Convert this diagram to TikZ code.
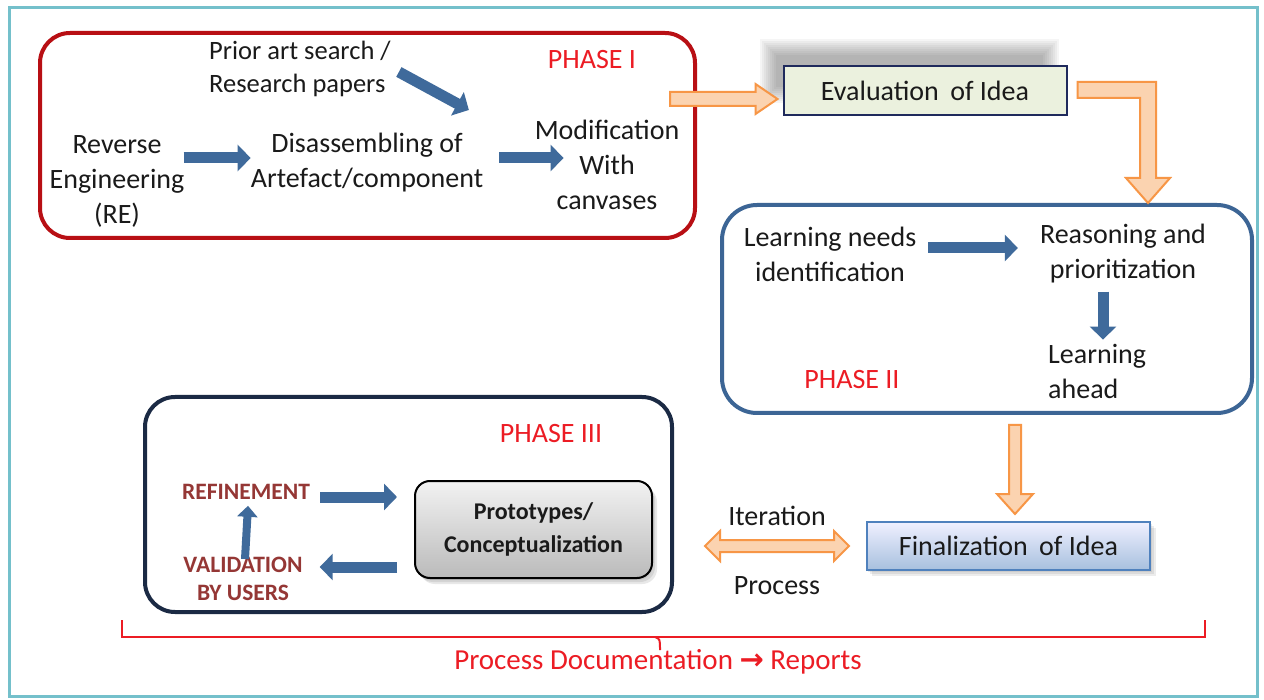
\documentclass[tikz,border=0pt]{standalone}
\usepackage{fontspec}
\setmainfont{Carlito}
\newfontfamily\dejavu{DejaVu Sans}
\usetikzlibrary{arrows.meta,calc,shadows}
\definecolor{framecol}{HTML}{74C0CB}
\definecolor{pIred}{HTML}{B80F14}
\definecolor{pIIblue}{HTML}{3C6595}
\definecolor{pIIInavy}{HTML}{1B2A44}
\definecolor{arrowblue}{HTML}{3F6A9B}
\definecolor{phasered}{HTML}{EC1C24}
\definecolor{refred}{HTML}{953735}
\definecolor{oborder}{HTML}{F79646}
\definecolor{ofill}{HTML}{FBD3B0}
\definecolor{evalfill}{HTML}{EBF1DE}
\definecolor{evalborder}{HTML}{1F2A5C}
\definecolor{finborder}{HTML}{4F81BD}
\definecolor{txtcol}{HTML}{1A1A1A}
\begin{document}
\begin{tikzpicture}[x=1pt,y=-1pt,
  txt/.style={font=\fontsize{28}{35}\selectfont, align=center, inner sep=0pt, text=txtcol},
  phaselbl/.style={font=\fontsize{28}{35}\selectfont, inner sep=0pt, text=phasered},
  boldlbl/.style={font=\bfseries\fontsize{23.5}{28}\selectfont, align=center, inner sep=0pt, text=refred},
  phasebox/.style={line width=4pt, fill=white, inner sep=0pt},
  barrow/.style={draw=arrowblue, line width=11pt, -{Triangle[length=13pt,width=26pt]}},
  sbarrow/.style={draw=arrowblue, line width=8pt, -{Triangle[length=11pt,width=20pt]}},
  oarrow/.style={draw=oborder, line width=2pt, fill=ofill, line join=miter},
]
\useasboundingbox (0,0) rectangle (1264,700);
\fill[white] (0,0) rectangle (1264,700);
\draw[framecol, line width=3pt] (9,8) rectangle (1257,696);

% ---------- Phase I ----------
\node[phasebox, draw=pIred, rounded corners=30pt, minimum width=655pt, minimum height=205pt] (p1) at (367.5,135.5) {};
\node[phaselbl] (ph1) at (592,60) {PHASE I};
\node[txt, align=left, anchor=west, font=\fontsize{26.5}{33}\selectfont] (prior) at (209,69) {Prior art search /\\Research papers};
\node[txt] (re) at (117,181) {Reverse\\Engineering\\(RE)};
\node[txt] (dis) at (367,163) {Disassembling of\\Artefact/component};
\node[txt] (mod) at (607,165) {Modification\\With\\canvases};

\draw[barrow] ([xshift=-1pt,yshift=23pt]re.east) -- ([xshift=0pt,yshift=23pt]re.east -| dis.west);
\draw[barrow] ([xshift=16pt,yshift=5pt]dis.east) -- ([xshift=29pt,yshift=7pt]mod.west);
\draw[barrow] ([shift={(8,3)}]prior.east) -- ([shift={(78,41)}]prior.east);

% ---------- Evaluation ----------
\coordinate (evc) at (925,91);
\foreach \i in {-8,-6,-4,-2,0,2,4,6,8}
  \fill[black!70, opacity=0.055] ($(evc)+(-157-\i,-44-\i)$) rectangle ($(evc)+(126+\i,4+\i)$);
\node[txt, draw=evalborder, line width=2pt, fill=evalfill, minimum width=283pt, minimum height=49pt] (eval) at (evc) {Evaluation\hspace{5pt} of Idea};

\coordinate (o1b) at ([xshift=-5pt,yshift=-8pt]eval.west);
\coordinate (o1a) at ([xshift=-27pt]p1.east |- o1b);
\filldraw[oarrow] ($(o1a)+(0,-7)$) -- ($(o1b)+(-22,-7)$) -- ($(o1b)+(-22,-15)$) -- (o1b) -- ($(o1b)+(-22,15)$) -- ($(o1b)+(-22,7)$) -- ($(o1a)+(0,7)$) -- cycle;

% ---------- Phase II ----------
\node[phasebox, draw=pIIblue, rounded corners=35pt, minimum width=530pt, minimum height=208pt] (p2) at (987,309) {};
\node[phaselbl] (ph2) at (852,380) {PHASE II};
\node[txt] (learn) at (830,254) {Learning needs\\identification};
\node[txt] (reason) at (1123,254) {Reasoning and\\prioritization};
\node[txt, align=left, anchor=west] (ahead) at (1048,371) {Learning\\ahead};

\draw[barrow] ([shift={(12,-6)}]learn.east) -- ([shift={(-22,-6)}]reason.west);
\draw[barrow] ([xshift=-20pt,yshift=-8pt]reason.south) -- ([xshift=-20pt,yshift=4pt]reason.south |- ahead.north);

% L-shaped orange arrow
\coordinate (la) at ([xshift=10pt,yshift=1pt]eval.east);
\coordinate (lb) at (p2.north -| 1148,0);
\coordinate (lc) at (la -| lb);
\filldraw[oarrow] ($(la)+(0,-8)$) -- ($(lc)+(8,-8)$) -- ($(lb)+(8,-25)$) -- ($(lb)+(22,-25)$) -- (lb) -- ($(lb)+(-22,-25)$) -- ($(lb)+(-8,-25)$) -- ($(lc)+(-8,8)$) -- ($(la)+(0,8)$) -- cycle;

% ---------- Finalization ----------
\foreach \i in {0,2,4}
  \fill[black!60, opacity=0.12] (868+\i,524+\i) rectangle (1152+\i,572+\i);
\node[txt, draw=finborder, line width=2pt, top color=blue!6!white, bottom color=finborder!50!white, minimum width=283pt, minimum height=48pt] (final) at (1008.5,546) {Finalization\hspace{5pt} of Idea};

\coordinate (o2a) at ([xshift=28pt,yshift=-10pt]p2.south);
\coordinate (o2b) at ([yshift=7pt]o2a |- final.north);
\filldraw[oarrow] ($(o2a)+(-6,0)$) -- ($(o2b)+(-6,-20)$) -- ($(o2b)+(-18,-20)$) -- (o2b) -- ($(o2b)+(18,-20)$) -- ($(o2b)+(6,-20)$) -- ($(o2a)+(6,0)$) -- cycle;

% ---------- Phase III ----------
\node[phasebox, draw=pIIInavy, rounded corners=30pt, minimum width=527pt, minimum height=215pt] (p3) at (408.5,504.5) {};
\node[phaselbl] (ph3) at (551,434) {PHASE III};
\foreach \i in {0,2,4}
  \fill[black!60, opacity=0.15, rounded corners=15pt] (416+\i,483+\i) rectangle (653+\i,580+\i);
\node[draw=black, line width=2pt, rounded corners=15pt, top color=white!95!black, bottom color=black!27, minimum width=237pt, minimum height=97pt, align=center, font=\bfseries\fontsize{24}{33}\selectfont, text=txtcol] (proto) at (533.5,529.5) {Prototypes/\\Conceptualization};
\node[boldlbl] (refine) at (246,492) {REFINEMENT};
\node[boldlbl] (valid) at (243,579) {VALIDATION\\BY USERS};

\draw[barrow] ([xshift=10pt,yshift=-5pt]refine.east) -- ([xshift=-17pt,yshift=-5pt]refine.east -| proto.west);
\draw[barrow] ([xshift=-17pt,yshift=12pt]valid.east -| proto.west) -- ([xshift=17pt,yshift=12pt]valid.east);
\draw[sbarrow] ([xshift=2pt,yshift=-2pt]valid.north) -- ([xshift=2pt,yshift=-6pt]refine.south);

% Iteration double arrow
\coordinate (da) at ([xshift=31pt]p3.east |- final.west);
\coordinate (db) at ([xshift=-17pt]final.west);
\filldraw[oarrow] (da) -- ($(da)+(15,-15)$) -- ($(da)+(15,-6)$) -- ($(db)+(-15,-6)$) -- ($(db)+(-15,-15)$) -- (db) -- ($(db)+(-15,15)$) -- ($(db)+(-15,6)$) -- ($(da)+(15,6)$) -- ($(da)+(15,15)$) -- cycle;
\node[txt] (iter) at (777,516) {Iteration};
\node[txt] (proc) at (777,586) {Process};

% ---------- Documentation bracket ----------
\node[txt, text=phasered, font=\fontsize{29}{35}\selectfont] (doc) at (658,662) {Process Documentation {\dejavu\bfseries →} Reports};
\draw[phasered, line width=2pt] (122,620) -- (122,637) -- (1205,637) -- (1205,620);
\draw[phasered, line width=2pt] (655,637) .. controls (660,639) .. (660,650);
\end{tikzpicture}
\end{document}
